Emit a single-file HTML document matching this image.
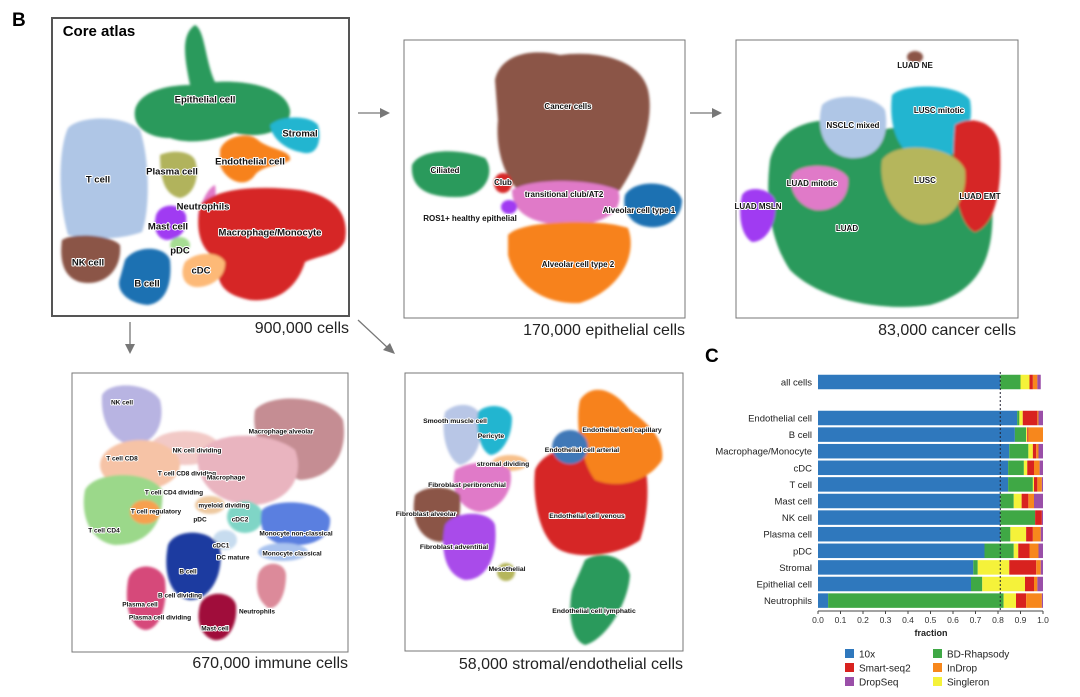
<!DOCTYPE html>
<html><head><meta charset="utf-8"><style>
html,body{margin:0;padding:0;background:#fff;}
svg{display:block;font-family:"Liberation Sans",sans-serif;}
.lb{font-weight:bold;fill:#111;paint-order:stroke;stroke:#fff;stroke-width:2px;stroke-linejoin:round;text-anchor:middle;dominant-baseline:middle;}
.cap{font-size:16px;fill:#222;text-anchor:end;}
</style></head><body>
<svg id="fig" width="1080" height="697" viewBox="0 0 1080 697">
<defs><filter id="soft" x="-10%" y="-10%" width="120%" height="120%"><feGaussianBlur stdDeviation="1.2"/></filter></defs>
<text x="12" y="26" font-size="19" font-weight="bold">B</text>
<text x="705" y="362" font-size="19" font-weight="bold">C</text>

<!-- Core atlas -->
<g>
<rect x="52" y="18" width="297" height="298" fill="#fff" stroke="#555" stroke-width="2"/>
<g filter="url(#soft)">
<path d="M135,110 C140,90 170,85 190,85 C185,60 180,35 195,25 C205,30 205,60 215,82 C240,80 285,85 290,110 C292,130 260,140 235,133 C215,140 190,145 170,138 C150,138 132,128 135,110Z" fill="#2b9a5c"/>
<path d="M270,125 C280,115 310,115 318,125 C322,140 318,158 300,152 C288,150 272,140 270,125Z" fill="#23b5d0"/>
<path d="M220,150 C225,135 250,132 258,140 C270,150 292,150 290,160 C285,165 262,165 255,175 C245,190 225,180 220,165Z" fill="#f7821a"/>
<path d="M160,155 C170,150 190,150 195,160 C200,175 195,195 180,198 C165,195 160,180 160,155Z" fill="#b1b35c"/>
<path d="M68,128 C80,115 125,115 140,130 C150,160 150,210 142,232 C120,240 90,240 68,235 C58,200 58,150 68,128Z" fill="#afc6e6"/>
<path d="M62,240 C75,232 110,235 120,245 C122,265 110,283 88,283 C70,283 58,270 62,240Z" fill="#8b5446"/>
<path d="M198,215 C202,200 208,188 215,185 C218,198 210,220 200,230Z" fill="#e07ac8"/>
<path d="M156,215 C160,203 180,202 186,215 C188,230 180,240 166,240 C156,238 153,228 156,215Z" fill="#a03af2"/>
<ellipse cx="180" cy="245" rx="10" ry="8" fill="#a6dd93"/>
<path d="M200,205 C215,188 260,185 300,190 C330,195 350,210 345,240 C340,255 320,255 305,262 C298,285 280,303 250,300 C225,295 215,285 218,260 C200,250 195,230 200,205Z" fill="#d62627"/>
<path d="M185,262 C195,252 218,250 225,262 C226,278 210,288 195,287 C182,285 180,272 185,262Z" fill="#fdb977"/>
<path d="M125,260 C135,245 165,245 170,260 C172,280 168,302 148,305 C130,304 115,292 120,278Z" fill="#1f71b2"/>
</g>
<text x="99" y="36" font-size="15" font-weight="bold" text-anchor="middle">Core atlas</text>
<g font-size="9.5">
<text class="lb" x="205" y="100">Epithelial cell</text>
<text class="lb" x="300" y="134">Stromal</text>
<text class="lb" x="250" y="162">Endothelial cell</text>
<text class="lb" x="172" y="172">Plasma cell</text>
<text class="lb" x="98" y="180">T cell</text>
<text class="lb" x="203" y="207">Neutrophils</text>
<text class="lb" x="168" y="227">Mast cell</text>
<text class="lb" x="270" y="233">Macrophage/Monocyte</text>
<text class="lb" x="180" y="251">pDC</text>
<text class="lb" x="88" y="263">NK cell</text>
<text class="lb" x="201" y="271">cDC</text>
<text class="lb" x="147" y="284">B cell</text>
</g>
</g>
<text class="cap" x="349" y="333">900,000 cells</text>

<!-- Arrows -->
<g stroke="#777" stroke-width="1.3" fill="#777">
<line x1="358" y1="113" x2="382" y2="113"/><polygon points="390,113 380,108 380,118" stroke="none"/>
<line x1="690" y1="113" x2="714" y2="113"/><polygon points="722,113 712,108 712,118" stroke="none"/>
<line x1="130" y1="322" x2="130" y2="346"/><polygon points="130,354 125,344 135,344" stroke="none"/>
<line x1="358" y1="320" x2="388" y2="348"/><polygon points="395,354 383,350 390,343" stroke="none"/>
</g>

<!-- Epithelial -->
<g>
<rect x="404" y="40" width="281" height="278" fill="#fff" stroke="#777" stroke-width="1"/>
<g filter="url(#soft)">
<path d="M495,80 C500,55 530,48 560,55 C600,50 640,60 648,90 C655,120 640,160 620,190 C600,205 560,210 530,200 C505,185 495,150 498,120Z" fill="#8b5446"/>
<path d="M412,165 C420,148 460,148 485,158 C495,170 488,195 460,197 C430,198 410,190 412,165Z" fill="#2b9a5c"/>
<ellipse cx="503" cy="183" rx="9" ry="10" fill="#d62627"/>
<path d="M512,190 C530,178 590,178 618,190 C625,210 605,225 570,225 C535,225 512,215 512,190Z" fill="#e07ac8"/>
<ellipse cx="509" cy="207" rx="8" ry="7" fill="#a03af2"/>
<path d="M625,195 C635,178 675,180 682,200 C682,222 660,232 640,225 C628,220 622,208 625,195Z" fill="#1f71b2"/>
<path d="M508,235 C520,220 600,218 628,228 C638,255 620,290 580,303 C545,305 515,285 508,255Z" fill="#f7821a"/>
</g>
<g font-size="8">
<text class="lb" x="568" y="107">Cancer cells</text>
<text class="lb" x="445" y="171">Ciliated</text>
<text class="lb" x="503" y="183">Club</text>
<text class="lb" x="564" y="195">transitional club/AT2</text>
<text class="lb" x="470" y="219">ROS1+ healthy epithelial</text>
<text class="lb" x="639" y="211">Alveolar cell type 1</text>
<text class="lb" x="578" y="265">Alveolar cell type 2</text>
</g>
</g>
<text class="cap" x="685" y="335">170,000 epithelial cells</text>

<!-- Cancer -->
<g>
<rect x="736" y="40" width="282" height="278" fill="#fff" stroke="#777" stroke-width="1"/>
<g filter="url(#soft)">
<path d="M770,160 C780,120 830,110 880,130 C930,120 990,140 992,200 C995,250 985,290 930,305 C880,312 820,300 790,270 C770,240 765,200 770,160Z" fill="#2b9a5c"/>
<ellipse cx="915" cy="57" rx="8" ry="6" fill="#8b5446"/>
<path d="M822,105 C835,92 875,95 885,110 C890,135 880,160 850,158 C825,155 815,130 822,105Z" fill="#afc6e6"/>
<path d="M892,95 C905,82 960,84 970,100 C975,130 960,160 930,162 C900,160 888,130 892,95Z" fill="#23b5d0"/>
<path d="M955,125 C970,115 998,120 1000,150 C1002,190 995,225 975,232 C958,225 950,180 955,125Z" fill="#d62627"/>
<path d="M882,160 C895,140 955,145 965,170 C968,200 950,225 920,224 C895,220 878,190 882,160Z" fill="#b5b65c"/>
<path d="M792,175 C800,162 840,163 848,178 C850,198 835,212 815,210 C798,206 788,190 792,175Z" fill="#e07ac8"/>
<path d="M742,195 C748,185 770,188 775,200 C778,220 768,242 752,242 C740,235 738,212 742,195Z" fill="#a03af2"/>
</g>
<g font-size="8">
<text class="lb" x="915" y="66">LUAD NE</text>
<text class="lb" x="853" y="126">NSCLC mixed</text>
<text class="lb" x="939" y="111">LUSC mitotic</text>
<text class="lb" x="812" y="184">LUAD mitotic</text>
<text class="lb" x="925" y="181">LUSC</text>
<text class="lb" x="980" y="197">LUAD EMT</text>
<text class="lb" x="758" y="207">LUAD MSLN</text>
<text class="lb" x="847" y="229">LUAD</text>
</g>
</g>
<text class="cap" x="1016" y="335">83,000 cancer cells</text>

<!-- Immune -->
<g>
<rect x="72" y="373" width="276" height="279" fill="#fff" stroke="#777" stroke-width="1"/>
<g filter="url(#soft)">
<path d="M102,395 C110,380 150,383 160,400 C165,420 158,442 135,445 C115,445 100,425 102,395Z" fill="#b8b4e2"/>
<ellipse cx="185" cy="448" rx="35" ry="17" fill="#f2c9c6"/>
<ellipse cx="140" cy="465" rx="40" ry="25" fill="#f6c3a6"/>
<path d="M85,490 C95,470 150,470 162,490 C165,520 150,545 115,545 C90,542 80,515 85,490Z" fill="#9bd88a"/>
<ellipse cx="145" cy="512" rx="15" ry="12" fill="#f7a050"/>
<path d="M255,410 C270,392 330,395 343,420 C348,450 335,478 300,480 C270,470 250,440 255,410Z" fill="#c58d93"/>
<path d="M198,455 C210,430 270,430 295,450 C305,475 290,502 255,505 C220,505 195,485 198,455Z" fill="#e9b4bf"/>
<ellipse cx="210" cy="505" rx="15" ry="9" fill="#eec9a0"/>
<ellipse cx="245" cy="517" rx="18" ry="16" fill="#7fd5c6"/>
<path d="M262,510 C275,498 322,500 330,518 C332,540 310,547 285,545 C265,542 258,528 262,510Z" fill="#5a7fe0"/>
<ellipse cx="283" cy="552" rx="25" ry="9" fill="#a9c3ef"/>
<ellipse cx="225" cy="540" rx="12" ry="10" fill="#c7dcef"/>
<path d="M168,545 C175,528 212,528 220,548 C224,575 210,600 190,600 C172,598 162,575 168,545Z" fill="#1a3aa0"/>
<path d="M258,575 C262,560 285,560 286,575 C286,595 278,610 268,608 C258,600 255,590 258,575Z" fill="#dc8a9a"/>
<path d="M128,580 C132,562 160,562 165,580 C168,605 160,630 145,630 C130,628 124,605 128,580Z" fill="#d64a7a"/>
<path d="M200,605 C205,590 232,590 236,605 C238,625 228,642 214,640 C200,636 196,620 200,605Z" fill="#a0103a"/>
</g>
<g font-size="6.5">
<text class="lb" x="122" y="403">NK cell</text>
<text class="lb" x="197" y="451">NK cell dividing</text>
<text class="lb" x="122" y="459">T cell CD8</text>
<text class="lb" x="187" y="474">T cell CD8 dividing</text>
<text class="lb" x="174" y="493">T cell CD4 dividing</text>
<text class="lb" x="156" y="512">T cell regulatory</text>
<text class="lb" x="104" y="531">T cell CD4</text>
<text class="lb" x="281" y="432">Macrophage alveolar</text>
<text class="lb" x="226" y="478">Macrophage</text>
<text class="lb" x="224" y="506">myeloid dividing</text>
<text class="lb" x="200" y="520">pDC</text>
<text class="lb" x="240" y="520">cDC2</text>
<text class="lb" x="296" y="534">Monocyte non-classical</text>
<text class="lb" x="221" y="546">cDC1</text>
<text class="lb" x="233" y="558">DC mature</text>
<text class="lb" x="292" y="554">Monocyte classical</text>
<text class="lb" x="188" y="572">B cell</text>
<text class="lb" x="257" y="612">Neutrophils</text>
<text class="lb" x="180" y="596">B cell dividing</text>
<text class="lb" x="140" y="605">Plasma cell</text>
<text class="lb" x="160" y="618">Plasma cell dividing</text>
<text class="lb" x="215" y="629">Mast cell</text>
</g>
</g>
<text class="cap" x="348" y="668">670,000 immune cells</text>

<!-- Stromal -->
<g>
<rect x="405" y="373" width="278" height="278" fill="#fff" stroke="#777" stroke-width="1"/>
<g filter="url(#soft)">
<path d="M445,412 C455,402 475,402 480,415 C485,440 475,462 460,465 C448,460 440,435 445,412Z" fill="#b8c6e6"/>
<path d="M478,412 C488,402 510,405 512,418 C512,440 500,455 490,455 C480,450 475,430 478,412Z" fill="#23b5d0"/>
<ellipse cx="510" cy="463" rx="18" ry="8" fill="#f7c08a"/>
<path d="M455,470 C470,460 500,460 510,470 C515,490 500,510 480,512 C460,510 450,490 455,470Z" fill="#e07ac8"/>
<path d="M415,495 C425,485 450,485 460,495 C462,520 455,540 440,542 C420,540 410,520 415,495Z" fill="#8b5446"/>
<path d="M445,525 C455,510 490,510 495,525 C498,550 490,580 465,580 C445,575 440,550 445,525Z" fill="#a94bea"/>
<ellipse cx="506" cy="572" rx="9" ry="9" fill="#b5b65c"/>
<path d="M535,470 C545,445 590,440 640,450 C650,470 650,510 640,540 C620,555 580,560 560,550 C540,540 532,500 535,470Z" fill="#d62627"/>
<path d="M580,400 C590,385 610,385 630,410 C650,425 665,440 662,460 C650,480 620,490 595,480 C580,460 575,420 580,400Z" fill="#f7821a"/>
<ellipse cx="570" cy="447" rx="18" ry="17" fill="#3f78b7"/>
<path d="M585,560 C600,550 625,555 630,575 C628,605 605,640 585,645 C570,640 568,610 572,590Z" fill="#2b9a5c"/>
</g>
<g font-size="6.8">
<text class="lb" x="455" y="421">Smooth muscle cell</text>
<text class="lb" x="491" y="436">Pericyte</text>
<text class="lb" x="503" y="464">stromal dividing</text>
<text class="lb" x="467" y="485">Fibroblast peribronchial</text>
<text class="lb" x="426" y="514">Fibroblast alveolar</text>
<text class="lb" x="454" y="547">Fibroblast adventitial</text>
<text class="lb" x="507" y="569">Mesothelial</text>
<text class="lb" x="622" y="430">Endothelial cell capillary</text>
<text class="lb" x="582" y="450">Endothelial cell arterial</text>
<text class="lb" x="587" y="516">Endothelial cell venous</text>
<text class="lb" x="594" y="611">Endothelial cell lymphatic</text>
</g>
</g>
<text class="cap" x="683" y="669">58,000 stromal/endothelial cells</text>

<g id="chart"></g>
</svg>
<script>
const categories = ["all cells","Endothelial cell","B cell","Macrophage/Monocyte","cDC","T cell","Mast cell","NK cell","Plasma cell","pDC","Stromal","Epithelial cell","Neutrophils"];
const platforms = ["10x","BD-Rhapsody","Singleron","Smart-seq2","InDrop","DropSeq"];
const v10x      = [0.81,0.885,0.875,0.85,0.845,0.845,0.81,0.81,0.81,0.74,0.69,0.68,0.045];
const vBD       = [0.09,0.01,0.05,0.085,0.07,0.11,0.06,0.155,0.045,0.13,0.02,0.05,0.78];
const vSingleron= [0.04,0.015,0.005,0.02,0.015,0.005,0.035,0,0.07,0.02,0.14,0.19,0.055];
const vSmart    = [0.015,0.065,0.005,0.015,0.03,0.015,0.03,0.03,0.03,0.05,0.12,0.04,0.045];
const vInDrop   = [0.02,0.005,0.065,0.01,0.025,0.02,0.025,0,0.035,0.04,0.02,0.015,0.07];
const vDropSeq  = [0.015,0.02,0,0.02,0.015,0.005,0.04,0.005,0.01,0.02,0.01,0.025,0.005];
const xTicks = [0,0.1,0.2,0.3,0.4,0.5,0.6,0.7,0.8,0.9,1.0];
const refLine = 0.81;
const series = [v10x,vBD,vSingleron,vSmart,vInDrop,vDropSeq];
const colors = ["#2f78bd","#3fa845","#f5f23a","#d8221f","#f7871c","#9a4fa8"];
const NS="http://www.w3.org/2000/svg";
const g=document.getElementById('chart');
const x0=818,x1=1043;
const xs=v=>x0+v*(x1-x0);
const rowY=i=> i===0 ? 382 : 418+(i-1)*16.6;
const bh=14.5;
function mk(t,a){const e=document.createElementNS(NS,t);for(const k in a)e.setAttribute(k,a[k]);g.appendChild(e);return e;}
categories.forEach((c,i)=>{
  let acc=0;
  series.forEach((s,j)=>{
    const w=s[i];
    const r=mk('rect',{x:xs(acc),y:rowY(i)-bh/2,width:Math.max(0,xs(acc+w)-xs(acc)),height:bh,fill:colors[j]});
    
    
    acc+=w;
  });
  const t=mk('text',{x:812,y:rowY(i)+3.5,'font-size':9.5,'text-anchor':'end',fill:'#222'});
  t.textContent=c;
  
  
});
const rl=mk('line',{x1:xs(refLine),x2:xs(refLine),y1:372,y2:610,stroke:'#223',"stroke-width":1,"stroke-dasharray":"2,2"});


const ax=mk('line',{x1:x0,x2:x1,y1:611,y2:611,stroke:'#444'});


xTicks.forEach(v=>{
  mk('line',{x1:xs(v),x2:xs(v),y1:611,y2:614,stroke:'#444'});
  const t=mk('text',{x:xs(v),y:623,'font-size':8.5,'text-anchor':'middle',fill:'#333'});
  t.textContent=v.toFixed(1);
  
  
});
const xt=mk('text',{x:931,y:636,'font-size':9,'font-weight':'bold','text-anchor':'middle',fill:'#222'});
xt.textContent='fraction';


const legPos=[[845,654],[933,654],[845,668],[933,668],[845,682],[933,682]];
const legOrder=[0,1,3,4,5,2];
legOrder.forEach((j,k)=>{
  const [lx,ly]=legPos[k];
  const r=mk('rect',{x:lx,y:ly-5,width:9,height:9,fill:colors[j]});
  
  
  const t=mk('text',{x:lx+14,y:ly+3.5,'font-size':10,fill:'#222'});
  t.textContent=platforms[j];
  
  
});
</script>
</body></html>
